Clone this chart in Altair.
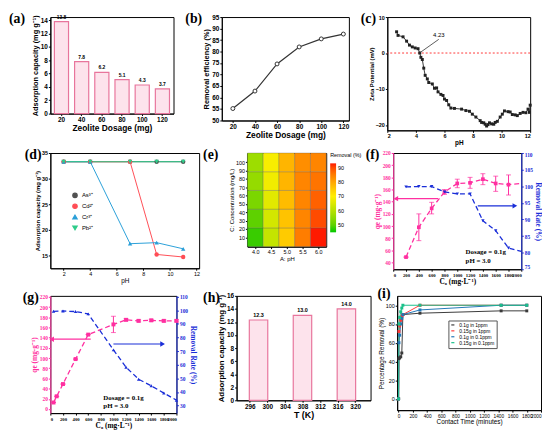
import altair as alt
import pandas as pd

SANS = "Liberation Sans"
SERIF = "Liberation Serif"
PINK = "#ff2fa0"
BLUE = "#1a2ed8"

# ---------------- data ----------------
# (a)
a_dosage = [20, 40, 60, 80, 100, 120]
a_capacity = [13.8, 7.8, 6.2, 5.1, 4.3, 3.7]
# (b)
b_dosage = [20, 40, 60, 80, 100, 120]
b_removal = [55.2, 62.8, 74.6, 82.0, 85.5, 87.6]
# (c)
c_ph = [2.65, 2.75, 3.1, 3.35, 3.55, 3.75, 3.95, 4.15, 4.27, 4.35, 4.45, 4.55, 4.65, 4.8, 4.9,
        5.15, 5.3, 5.45, 5.55, 5.75, 5.9, 6.0, 6.15, 6.3, 6.45, 6.7, 7.2, 7.5, 7.75, 7.95,
        8.2, 8.5, 8.6, 8.75, 8.85, 8.95, 9.05, 9.15, 9.3, 9.45, 9.55, 9.7, 9.9, 10.05, 10.2,
        10.45, 10.6, 10.75, 10.95, 11.1, 11.3, 11.5, 11.7, 11.85, 11.95, 12.0]
c_zeta = [5.9, 4.9, 4.5, 3.3, 2.2, 1.7, 1.4, 1.2, 0.0, -1.2, -1.8, -4.2, -6.2, -7.2, -8.2,
          -8.6, -9.8, -9.7, -10.8, -11.5, -11.8, -12.8, -13.2, -14.4, -15.3, -15.4, -15.6, -16.0, -16.2, -17.0,
          -17.8, -18.8, -19.3, -19.4, -19.8, -20.3, -19.9, -19.4, -19.7, -19.8, -19.3, -19.0, -17.8, -17.0, -16.1,
          -16.3, -16.4, -17.1, -17.2, -17.4, -16.8, -16.5, -16.6, -15.6, -16.5, -14.5]
# (d)
d_ph = [2, 4, 7, 9, 11]
d_as = [33.3, 33.3, 33.3, 33.3, 33.3]
d_cd = [33.3, 33.3, 33.3, 15.2, 14.7]
d_cr = [33.3, 33.3, 17.3, 17.5, 16.3]
d_pb = [33.3, 33.3, 33.3, 33.3, 33.3]
d_ions = ["As³⁺", "Cd²⁺", "Cr³⁺", "Pb²⁺"]
# (e)
e_ph = [4.0, 4.5, 5.0, 5.5, 6.0]
e_conc = [10, 32.5, 55, 77.5, 100]
e_removal = [
    [47, 50, 53, 56, 57],
    [62, 64, 66, 68, 69],
    [75, 76, 77, 78, 78],
    [85, 84, 84, 84, 83],
    [93, 90, 88, 86, 84],
]
# (f)
f_c0 = [200, 400, 600, 800, 1000, 1200, 1400, 1600, 1800, 2000]
f_qe = [49, 98, 129, 156, 170, 171, 177, 170, 168, 170]
f_qe_lo = [49, 76, 120, 152, 163, 162, 168, 157, 151, 170]
f_qe_hi = [49, 120, 139, 160, 177, 180, 186, 182, 184, 170]
f_rate = [99.8, 99.9, 99.9, 98.3, 97.7, 97.7, 89.6, 86.6, 81.4, 80.4]
# (g)
g_c0 = [50, 100, 200, 400, 600, 1000, 1200, 1400, 1600, 1800, 2000]
g_qe = [12.8, 25, 49, 98, 146, 166, 175, 173, 174, 173, 173]
g_qe_lo = [12.8, 25, 49, 98, 146, 150, 173, 171, 172, 171, 171]
g_qe_hi = [12.8, 25, 49, 98, 146, 182, 177, 175, 176, 175, 175]
g_rate_c0 = [50, 200, 400, 600, 1000, 1200, 1400, 1600, 1800, 2000]
g_rate = [99.2, 99.4, 99.0, 97.3, 70.9, 58.2, 49.3, 44.5, 39.2, 34.0]
# (h)
h_temp = [298, 308, 318]
h_capacity = [12.3, 13.0, 14.0]
# (i)
i_time = [0, 5, 15, 30, 45, 60, 300, 1440, 1800]
i_series = ["0.1g in 1ppm", "0.15g in 1ppm", "0.1g in 0.1ppm", "0.15g in 0.1ppm"]
i_gray = [0, 43, 44, 45, 49, 90, 91.5, 94, 94]
i_red = [0, 72, 78, 84, 88, 90, 100, 100, 100]
i_blue = [0, 60, 68, 80, 86, 90, 95, 100, 100]
i_green = [0, 80, 87, 93, 97, 100, 100, 100, 100]


# ---------------- helpers ----------------
def ax(title, font=SANS, bold=True, lsize=6.5, tsize=8, color="black", **kw):
    w = "bold" if bold else "normal"
    return alt.Axis(title=title, labelFont=font, titleFont=font, labelFontWeight=w,
                    titleFontWeight=w, labelFontSize=lsize, titleFontSize=tsize,
                    labelColor=color, titleColor=color, domainColor=color, tickColor=color,
                    grid=False, tickSize=2, titlePadding=1, labelPadding=1,
                    labelOverlap=False, **kw)


def plabel(txt, dx, dy=-5):
    return alt.Chart(pd.DataFrame({"t": [txt]})).mark_text(
        font=SERIF, fontWeight="bold", fontSize=14, align="left", baseline="top"
    ).encode(text="t:N", x=alt.value(dx), y=alt.value(dy))


# ---------------- (a) ----------------
dfa = pd.DataFrame({"dosage": a_dosage, "cap": a_capacity})
axa_x = ax("Zeolite Dosage (mg)", tsize=8.5, labelAngle=0)
axa_y = ax("Adsorption capacity (mg g⁻¹)", tsize=7.5, values=list(range(0, 15, 2)))
xa = alt.X("dosage:O", scale=alt.Scale(paddingInner=0.3, paddingOuter=0.2), axis=axa_x)
ya = alt.Y("cap:Q", scale=alt.Scale(domain=[0, 14.5], nice=False), axis=axa_y)
bars_a = alt.Chart(dfa).mark_bar(fill="#fde3ec", stroke="#e8759c", strokeWidth=1.2).encode(x=xa, y=ya)
txt_a = alt.Chart(dfa).mark_text(dy=-2, baseline="bottom", fontSize=5, fontWeight="bold", font=SANS).encode(
    x=xa, y=ya, text=alt.Text("cap:Q", format=".1f"))
chart_a = alt.layer(bars_a, txt_a, plabel("(a)", -42)).properties(width=125, height=98)

# ---------------- (b) ----------------
dfb = pd.DataFrame({"dosage": b_dosage, "eff": b_removal})
xb = alt.X("dosage:Q", scale=alt.Scale(domain=[10, 125], nice=False),
           axis=ax("Zeolite Dosage (mg)", tsize=8.5, values=[20, 40, 60, 80, 100, 120]))
yb = alt.Y("eff:Q", scale=alt.Scale(domain=[50, 95], nice=False),
           axis=ax("Removal efficiency (%)", tsize=7.5, values=list(range(50, 96, 5))))
chart_b = alt.layer(
    alt.Chart(dfb).mark_line(color="#333333", strokeWidth=1.2).encode(x=xb, y=yb),
    alt.Chart(dfb).mark_point(shape="circle", filled=True, fill="white", stroke="#333333",
                              strokeWidth=1, size=16, opacity=1).encode(x=xb, y=yb),
    plabel("(b)", -37),
).properties(width=129, height=105)

# ---------------- (c) ----------------
dfc = pd.DataFrame({"ph": c_ph, "zeta": c_zeta})
axc_x = ax("pH", lsize=5.5, tsize=6.5, values=[2, 4, 6, 8, 10, 12])
axc_y = ax("Zeta Potential (mV)", lsize=5.5, tsize=6, values=[-20, -10, 0, 10])
xc = alt.X("ph:Q", scale=alt.Scale(domain=[2, 12], nice=False), axis=axc_x)
yc = alt.Y("zeta:Q", scale=alt.Scale(domain=[-21.5, 10], nice=False), axis=axc_y)
zero_c = alt.Chart(pd.DataFrame({"zeta": [0]})).mark_rule(
    color="#ff2020", strokeDash=[2, 2], strokeWidth=0.9).encode(y=alt.Y("zeta:Q", axis=axc_y))
ann_c = alt.Chart(pd.DataFrame({"ph": [4.25], "zeta": [0.0], "x2": [5.6], "y2": [3.8]})).mark_rule(
    color="#333333", strokeWidth=0.8).encode(x=alt.X("ph:Q", axis=axc_x), y=alt.Y("zeta:Q", axis=axc_y),
                                              x2="x2:Q", y2="y2:Q")
anntxt_c = alt.Chart(pd.DataFrame({"ph": [5.6], "zeta": [4.3], "t": ["4.23"]})).mark_text(
    fontSize=6, font=SANS, align="center", baseline="bottom").encode(
    x=alt.X("ph:Q", axis=axc_x), y=alt.Y("zeta:Q", axis=axc_y), text="t:N")
chart_c = alt.layer(
    alt.Chart(dfc).mark_line(color="#222222", strokeWidth=0.9).encode(x=xc, y=yc),
    zero_c,
    alt.Chart(dfc).mark_square(color="#222222", size=9, opacity=1).encode(x=xc, y=yc),
    ann_c, anntxt_c,
    plabel("(c)", -27),
).properties(width=145, height=115)

# ---------------- (d) ----------------
rows = []
for ion, vals in zip(d_ions, [d_as, d_cd, d_cr, d_pb]):
    for p, v in zip(d_ph, vals):
        rows.append({"ph": p, "cap": v, "ion": ion})
dfd = pd.DataFrame(rows)
d_colors = ["#505050", "#ff4d55", "#2a9fd8", "#2ecc8a"]
d_shapes = ["circle", "circle", "triangle-up", "triangle-down"]
xd = alt.X("ph:Q", scale=alt.Scale(domain=[1, 12.2], nice=False),
           axis=ax("pH", bold=False, lsize=5.5, tsize=6.5, values=[2, 4, 6, 8, 10, 12]))
yd = alt.Y("cap:Q", scale=alt.Scale(domain=[12.5, 35], nice=False),
           axis=ax("Adsorption capacity (mg g⁻¹)", bold=True, lsize=5.5, tsize=6, values=[15, 20, 25, 30, 35]))
leg_d = alt.Legend(title=None, orient="none", legendX=22, legendY=40, labelFontSize=6,
                   labelFont=SANS, symbolSize=20, rowPadding=1, symbolStrokeWidth=1.2)
cd = alt.Color("ion:N", scale=alt.Scale(domain=d_ions, range=d_colors), legend=leg_d)
sd = alt.Shape("ion:N", scale=alt.Scale(domain=d_ions, range=d_shapes), legend=leg_d)
chart_d = alt.layer(
    alt.Chart(dfd).mark_line(strokeWidth=1).encode(x=xd, y=yd, color=cd),
    alt.Chart(dfd).mark_point(filled=True, size=20, opacity=1).encode(x=xd, y=yd, color=cd, shape=sd),
    plabel("(d)", -26),
).properties(width=151, height=117)

# ---------------- (e) ----------------
erows = []
for p, rowv in zip(e_ph, e_removal):
    for c, v in zip(e_conc, rowv):
        erows.append({"ph": p, "conc": c, "rem": v})
dfe = pd.DataFrame(erows)
chart_e = alt.layer(
    alt.Chart(dfe).transform_calculate(
        x1="datum.ph - 0.25", x2="datum.ph + 0.25", y1="datum.conc - 11.25", y2="datum.conc + 11.25"
    ).mark_rect(stroke="#555555", strokeWidth=0.3).encode(
        x=alt.X("x1:Q", scale=alt.Scale(domain=[3.75, 6.25], nice=False),
                axis=ax("A: pH", bold=False, lsize=5.5, tsize=6, values=[4, 4.5, 5, 5.5, 6])),
        x2="x2:Q",
        y=alt.Y("y1:Q", scale=alt.Scale(domain=[-1.25, 111.25], nice=False),
                axis=ax("C: Concentration (mg/L)", bold=False, lsize=5.5, tsize=6,
                        values=[10, 20, 30, 40, 50, 60, 70, 80, 90, 100])),
        y2="y2:Q",
        color=alt.Color("rem:Q", scale=alt.Scale(domain=[45, 70, 93], range=["#00c800", "#ffee00", "#ff1a00"]),
                        legend=alt.Legend(title="Removal (%)", titleFontSize=5.5, labelFontSize=5.5,
                                          gradientLength=70, gradientThickness=6, titleFont=SANS,
                                          labelFont=SANS, titleFontWeight="normal", offset=4,
                                          values=[50, 60, 70, 80, 90])),
    ),
    plabel("(e)", -45),
).properties(width=80, height=95)

# ---------------- (f) ----------------
dff = pd.DataFrame({"c0": f_c0, "qe": f_qe, "lo": f_qe_lo, "hi": f_qe_hi, "rate": f_rate})
axf_x = ax("C₀ (mg·L⁻¹)", font=SERIF, lsize=4.8, tsize=7.5, values=list(range(0, 2001, 200)), format="d")
axf_l = ax("qe (mg·g⁻¹)", font=SERIF, lsize=5.5, tsize=7.5, color=PINK,
           values=list(range(40, 221, 20)), orient="left")
axf_r = ax("Removal Rate (%)", font=SERIF, lsize=5.5, tsize=7.5, color=BLUE,
           values=list(range(75, 111, 5)), orient="right", labelFlush=True)
xf = alt.X("c0:Q", scale=alt.Scale(domain=[0, 2000], nice=False), axis=axf_x)
yf_l = alt.Y("qe:Q", scale=alt.Scale(domain=[29, 220], nice=False), axis=axf_l)
yf_r = alt.Y("rate:Q", scale=alt.Scale(domain=[75, 110], nice=False), axis=axf_r)
left_f = alt.layer(
    alt.Chart(dff).mark_line(color=PINK, strokeDash=[5, 3], strokeWidth=1.3).encode(x=xf, y=yf_l),
    alt.Chart(dff).transform_filter("datum.c0 < 2000").mark_errorbar(color=PINK, ticks=True).encode(
        x=xf, y=alt.Y("lo:Q", axis=axf_l), y2="hi:Q"),
    alt.Chart(dff).transform_filter("datum.c0 < 2000").mark_square(color=PINK, size=14, opacity=1).encode(
        x=xf, y=yf_l),
    alt.Chart(pd.DataFrame({"c0": [700], "x2": [40], "qe": [145]})).mark_rule(color=PINK, strokeWidth=1.2).encode(
        x=xf, x2="x2:Q", y=yf_l),
    alt.Chart(pd.DataFrame({"c0": [40], "qe": [145]})).mark_point(
        shape="triangle-left", filled=True, color=PINK, size=30, opacity=1).encode(x=xf, y=yf_l),
    alt.Chart(pd.DataFrame({"c0": [1130, 1130], "qe": [58, 42], "t": ["Dosage = 0.1g", "pH = 3.0"]})).mark_text(
        font=SERIF, fontWeight="bold", fontSize=7, align="left").encode(x=xf, y=yf_l, text="t:N"),
    plabel("(f)", -28),
)
right_f = alt.layer(
    alt.Chart(dff).mark_line(color=BLUE, strokeDash=[5, 3], strokeWidth=1.3).encode(x=xf, y=yf_r),
    alt.Chart(dff).transform_filter("datum.c0 < 2000").mark_point(
        shape="triangle-down", filled=True, color=BLUE, size=12, opacity=1).encode(x=xf, y=yf_r),
    alt.Chart(pd.DataFrame({"c0": [1320], "x2": [1900], "rate": [94.1]})).mark_rule(
        color=BLUE, strokeWidth=1.2).encode(x=xf, x2="x2:Q", y=yf_r),
    alt.Chart(pd.DataFrame({"c0": [1900], "rate": [94.1]})).mark_point(
        shape="triangle-right", filled=True, color=BLUE, size=30, opacity=1).encode(x=xf, y=yf_r),
)
chart_f = alt.layer(left_f, right_f).resolve_scale(y="independent").properties(width=130, height=118)

# ---------------- (g) ----------------
dfg = pd.DataFrame({"c0": g_c0, "qe": g_qe, "lo": g_qe_lo, "hi": g_qe_hi})
dfg2 = pd.DataFrame({"c0": g_rate_c0, "rate": g_rate})
axg_x = ax("C₀ (mg·L⁻¹)", font=SERIF, lsize=4.8, tsize=7.5, values=list(range(0, 2001, 200)), format="d")
axg_l = ax("qe (mg·g⁻¹)", font=SERIF, lsize=5.5, tsize=7.5, color=PINK,
           values=list(range(0, 221, 20)), orient="left")
axg_r = ax("Removal Rate (%)", font=SERIF, lsize=5.5, tsize=7.5, color=BLUE,
           values=list(range(30, 111, 10)), orient="right")
xg = alt.X("c0:Q", scale=alt.Scale(domain=[0, 2000], nice=False), axis=axg_x)
yg_l = alt.Y("qe:Q", scale=alt.Scale(domain=[-8, 222], nice=False), axis=axg_l)
yg_r = alt.Y("rate:Q", scale=alt.Scale(domain=[24.5, 110.5], nice=False), axis=axg_r)
left_g = alt.layer(
    alt.Chart(dfg).mark_line(color=PINK, strokeDash=[5, 3], strokeWidth=1.3).encode(x=xg, y=yg_l),
    alt.Chart(dfg).mark_errorbar(color=PINK, ticks=True).encode(x=xg, y=alt.Y("lo:Q", axis=axg_l), y2="hi:Q"),
    alt.Chart(dfg).mark_square(color=PINK, size=16, opacity=1).encode(x=xg, y=yg_l),
    alt.Chart(pd.DataFrame({"c0": [640], "x2": [20], "qe": [137]})).mark_rule(color=PINK, strokeWidth=1.2).encode(
        x=xg, x2="x2:Q", y=yg_l),
    alt.Chart(pd.DataFrame({"c0": [20], "qe": [137]})).mark_point(
        shape="triangle-left", filled=True, color=PINK, size=30, opacity=1).encode(x=xg, y=yg_l),
    alt.Chart(pd.DataFrame({"c0": [840, 840], "qe": [22, 6], "t": ["Dosage = 0.1g", "pH = 3.0"]})).mark_text(
        font=SERIF, fontWeight="bold", fontSize=7, align="left").encode(x=xg, y=yg_l, text="t:N"),
    plabel("(g)", -28),
)
right_g = alt.layer(
    alt.Chart(dfg2).mark_line(color=BLUE, strokeDash=[5, 3], strokeWidth=1.3).encode(x=xg, y=yg_r),
    alt.Chart(dfg2).mark_point(shape="triangle-up", filled=True, color=BLUE, size=12, opacity=1).encode(
        x=xg, y=yg_r),
    alt.Chart(pd.DataFrame({"c0": [1000], "x2": [1780], "rate": [75.2]})).mark_rule(
        color=BLUE, strokeWidth=1.2).encode(x=xg, x2="x2:Q", y=yg_r),
    alt.Chart(pd.DataFrame({"c0": [1780], "rate": [75.2]})).mark_point(
        shape="triangle-right", filled=True, color=BLUE, size=30, opacity=1).encode(x=xg, y=yg_r),
)
chart_g = alt.layer(left_g, right_g).resolve_scale(y="independent").properties(width=128, height=119)

# ---------------- (h) ----------------
dfh = pd.DataFrame({"T": h_temp, "cap": h_capacity})
axh_x = ax("T (K)", tsize=9, values=list(range(296, 321, 4)))
axh_y = ax("Adsorption capacity (mg g⁻¹)", tsize=8, values=list(range(0, 17, 2)))
yh = alt.Y("cap:Q", scale=alt.Scale(domain=[0, 16], nice=False), axis=axh_y)
chart_h = alt.layer(
    alt.Chart(dfh).transform_calculate(x1="datum.T - 2.1", x2="datum.T + 2.1").mark_rect(
        fill="#fde3ec", stroke="#e8759c", strokeWidth=1.2).encode(
        x=alt.X("x1:Q", scale=alt.Scale(domain=[293, 323.5], nice=False), axis=axh_x),
        x2="x2:Q", y=yh, y2=alt.datum(0)),
    alt.Chart(dfh).mark_text(dy=-2, baseline="bottom", fontSize=5.5, fontWeight="bold", font=SANS).encode(
        x=alt.X("T:Q", axis=axh_x), y=yh, text=alt.Text("cap:Q", format=".1f")),
    plabel("(h)", -34),
).properties(width=136, height=106)

# ---------------- (i) ----------------
irows = []
for s, vals in zip(i_series, [i_gray, i_red, i_blue, i_green]):
    for t, v in zip(i_time, vals):
        irows.append({"t": t, "rem": v, "s": s})
dfi = pd.DataFrame(irows)
ci = alt.Color("s:N", scale=alt.Scale(domain=i_series, range=["#3a3a3a", "#ff3b3b", "#2277b8", "#19c08a"]),
               legend=alt.Legend(title=None, orient="none", legendX=52, legendY=25, labelFontSize=5,
                                 labelFont=SANS, symbolSize=10, rowPadding=0, strokeColor="#555555",
                                 padding=2, symbolType="stroke", symbolStrokeWidth=1.2))
xi = alt.X("t:Q", scale=alt.Scale(domain=[-20, 2000], nice=False),
           axis=ax("Contact Time (minutes)", bold=False, lsize=4.8, tsize=6.5, values=list(range(0, 2001, 200)),
                   format="d"))
yi = alt.Y("rem:Q", scale=alt.Scale(domain=[-12, 110], nice=False),
           axis=ax("Percentage Removal (%)", bold=False, lsize=5.5, tsize=6.5, values=[0, 20, 40, 60, 80, 100]))
chart_i = alt.layer(
    alt.Chart(dfi).mark_line(strokeWidth=1).encode(x=xi, y=yi, color=ci),
    alt.Chart(dfi).mark_square(size=9, opacity=1).encode(x=xi, y=yi, color=ci),
    plabel("(i)", -20, -9),
).properties(width=146, height=116)

IND = dict(color="independent", shape="independent")
row1 = alt.hconcat(chart_a, chart_b, chart_c, spacing=10).resolve_scale(**IND)
row2 = alt.hconcat(chart_d, chart_e, chart_f, spacing=2).resolve_scale(**IND)
row3 = alt.hconcat(chart_g, chart_h, chart_i, spacing=5).resolve_scale(**IND)

chart = alt.vconcat(row1, row2, row3, spacing=0).resolve_scale(**IND).properties(
    padding={"left": 0, "top": 0, "right": 0, "bottom": 0}
).configure_view(stroke="black", strokeWidth=1).configure_axis(labelOverlap=False)

chart.save("out.html", embed_options={"renderer": "svg", "actions": False})
